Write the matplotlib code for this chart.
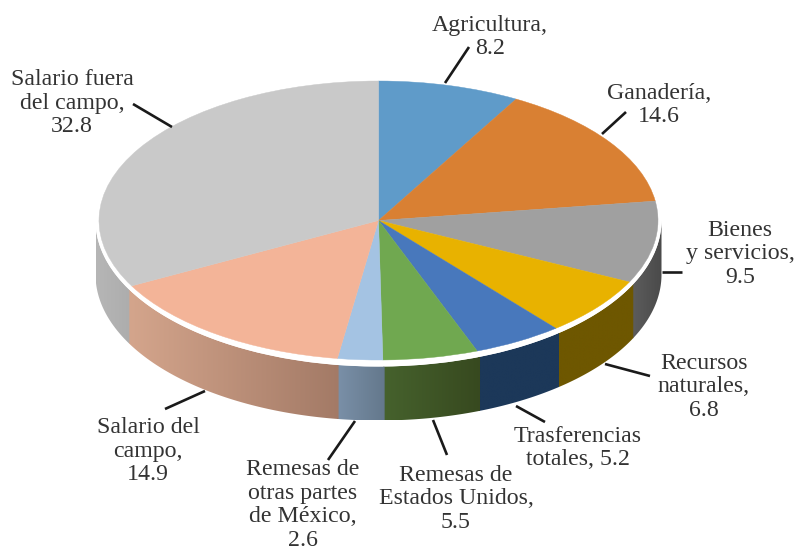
import numpy as np
import matplotlib
matplotlib.use("Agg")
import matplotlib.pyplot as plt
from matplotlib.colors import LinearSegmentedColormap
from matplotlib.patches import Ellipse, Polygon
from matplotlib.transforms import Affine2D

categories = ["Agricultura", "Ganadería", "Bienes y servicios", "Recursos naturales",
              "Trasferencias totales", "Remesas de Estados Unidos",
              "Remesas de otras partes de México", "Salario del campo", "Salario fuera del campo"]
values = [8.2, 14.6, 9.5, 6.8, 5.2, 5.5, 2.6, 14.9, 32.8]
labels = ["Agricultura,\n8.2", "Ganadería,\n14.6", "Bienes\ny servicios,\n9.5",
          "Recursos\nnaturales,\n6.8", "Trasferencias\ntotales, 5.2",
          "Remesas de\nEstados Unidos,\n5.5", "Remesas de\notras partes\nde México,\n2.6",
          "Salario del\ncampo,\n14.9", "Salario fuera\ndel campo,\n32.8"]
top_colors = ["#5f9bc9", "#d98033", "#a0a0a0", "#e8b200", "#4878bc", "#70a850", "#a4c3e3", "#f3b498", "#c9c9c9"]
side_left = ["#5f9bc9", "#d98033", "#5c5c5c", "#6e5700", "#1c3859", "#46622d", "#7a90a8", "#d4a58c", "#b6b6b6"]
side_right = ["#5f9bc9", "#d98033", "#4a4a4a", "#6e5700", "#1c3859", "#37491f", "#64788c", "#a37a66", "#adadad"]

# layout, in picture pixels
W, H = 798, 551
CX, CY, RX, RY = 378.5, 220.5, 279.5, 139.5
RIM_X, RIM_Y = 283 / RX, 146 / RY
DEPTH = 54 / RY
label_pos = [(490, 37), (659, 105), (740, 254), (704, 387), (578, 448),
             (456, 499), (303, 505), (148, 451), (72, 103)]
leaders = [((445, 83), (469, 47)), ((602, 134), (626, 112)), ((662, 272), (682, 272)),
           ((605, 364), (650, 376)), ((516, 406), (545, 422)), ((433, 420), (447, 455)),
           ((355, 421), (328, 460)), ((205, 391), (165, 409)), ((172, 127), (133, 104))]

fig = plt.figure(figsize=(W / 100, H / 100), dpi=100, facecolor="white")
ax = fig.add_axes([0, 0, 1, 1])
px = Affine2D().scale(1, -1).translate(0, H)

# side wall, front half only; each segment slightly overlaps the previous one to hide seams
fractions = np.cumsum([0] + values) / np.sum(values) * 2 * np.pi
for i in range(len(values)):
    a0, a1 = max(fractions[i] - 0.006, np.pi / 2), min(fractions[i + 1], 3 * np.pi / 2)
    if a1 <= a0:
        continue
    t = np.linspace(a0, a1, 80)
    x = RIM_X * np.sin(t)
    y = RIM_Y * np.cos(t)
    poly = np.vstack([np.column_stack([x, y]), np.column_stack([x[::-1], y[::-1] - DEPTH])])
    cmap = LinearSegmentedColormap.from_list("s", [side_left[i], side_right[i]])
    img = ax.imshow(np.linspace(0, 1, 128).reshape(1, -1), cmap=cmap, aspect="auto",
                    extent=[x.min(), x.max(), y.min() - DEPTH, y.max()], zorder=1,
                    interpolation="bilinear")
    clip = Polygon(poly, transform=ax.transData, fill=False, edgecolor="none")
    ax.add_patch(clip)
    img.set_clip_path(clip)

# white rim and top face
ax.add_patch(Ellipse((0, 0), 2 * RIM_X, 2 * RIM_Y, facecolor="white", edgecolor="none", zorder=2))
wedges, _ = ax.pie(values, colors=top_colors, startangle=90, counterclock=False, radius=1,
                   wedgeprops={"linewidth": 0, "zorder": 3})
for w, c in zip(wedges, top_colors):
    w.set_edgecolor(c)
    w.set_linewidth(0.3)

ax.set_xlim(-CX / RX, (W - CX) / RX)
ax.set_ylim((CY - H) / RY, CY / RY)
ax.set_aspect("auto")
ax.axis("off")

for (lx, ly), text in zip(label_pos, labels):
    ax.text(lx, ly, text, transform=px, ha="center", va="center", fontsize=17.2,
            family="Liberation Serif", color="#333333", linespacing=1.16, zorder=5)
for (p0, p1) in leaders:
    ax.plot([p0[0], p1[0]], [p0[1], p1[1]], transform=px, color="#1a1a1a", lw=1.9,
            solid_capstyle="butt", zorder=4, clip_on=False)

fig.savefig("out.png", dpi=100)
